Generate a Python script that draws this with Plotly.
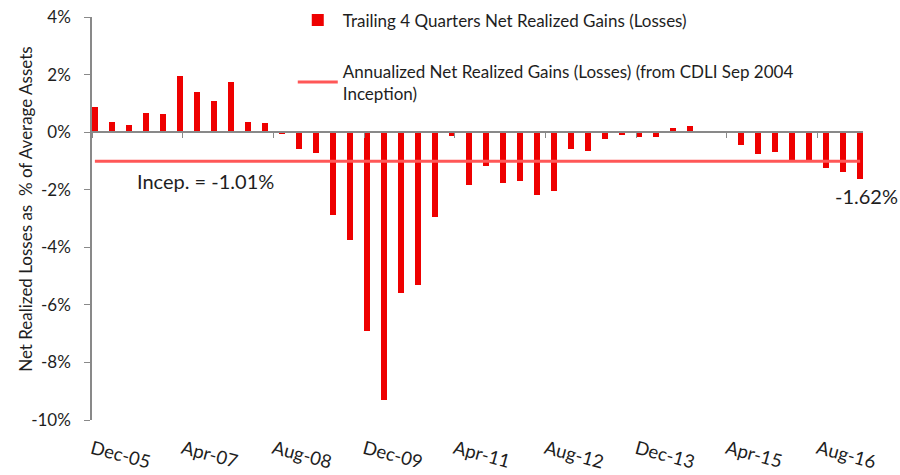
import plotly.graph_objects as go

# ---------------- data ----------------
quarters = [
    "2005-12", "2006-03", "2006-06", "2006-09", "2006-12", "2007-03", "2007-06", "2007-09",
    "2007-12", "2008-03", "2008-06", "2008-09", "2008-12", "2009-03", "2009-06", "2009-09",
    "2009-12", "2010-03", "2010-06", "2010-09", "2010-12", "2011-03", "2011-06", "2011-09",
    "2011-12", "2012-03", "2012-06", "2012-09", "2012-12", "2013-03", "2013-06", "2013-09",
    "2013-12", "2014-03", "2014-06", "2014-09", "2014-12", "2015-03", "2015-06", "2015-09",
    "2015-12", "2016-03", "2016-06", "2016-09", "2016-12", "2017-03",
]
trailing_4q = [
    0.88, 0.36, 0.24, 0.67, 0.64, 1.96, 1.39, 1.08,
    1.74, 0.36, 0.32, -0.03, -0.59, -0.71, -2.87, -3.75,
    -6.91, -9.30, -5.59, -5.30, -2.94, -0.13, -1.83, -1.17,
    -1.76, -1.68, -2.17, -2.06, -0.58, -0.67, -0.24, -0.10,
    -0.18, -0.17, 0.13, 0.21, 0.0, 0.0, -0.45, -0.77,
    -0.68, -0.96, -1.05, -1.25, -1.39, -1.62,
]
inception_value = -1.01
inception = [inception_value] * len(quarters)

y_ticks = [-10, -8, -6, -4, -2, 0, 2, 4]
y_tick_text = ["-10%", "-8%", "-6%", "-4%", "-2%", "0%", "2%", "4%"]
bar_name = "Trailing 4 Quarters Net Realized Gains (Losses)"
line_name = "Annualized Net Realized Gains (Losses) (from CDLI Sep 2004<br>Inception)"
y_title = "Net Realized Losses as  % of Average Assets"
incep_label = "Incep. = -1.01%"
last_label = "-1.62%"

# ---------------- style ----------------
FONT = "Lato, 'Open Sans', sans-serif"
TXT = "#1e1e1e"
GRAY = "#898989"
BAR_RED = "#EE0000"
LINE_RED = "#FF5757"
x_range = ["2005-12-01", "2017-04-01"]
DAY_MS = 86400000

fig = go.Figure()
fig.add_trace(go.Bar(
    x=quarters, y=trailing_4q, name=bar_name,
    xperiod="M1", xperiodalignment="middle",
    width=32 * DAY_MS,
    marker=dict(color=BAR_RED, line=dict(width=0)),
    legendgroup="a",
))
fig.add_trace(go.Scatter(
    x=quarters, y=inception, name=line_name, mode="lines",
    xperiod="M1", xperiodalignment="middle",
    line=dict(color=LINE_RED, width=3),
    xaxis="x2", legendgroup="b",
))

fig.add_annotation(x="2007-08-01", y=inception_value, yanchor="top", yshift=-6,
                   text=incep_label, showarrow=False,
                   font=dict(family=FONT, size=20, color=TXT))
fig.add_annotation(x="2017-03-16", y=trailing_4q[-1], yanchor="top", yshift=-3, xshift=6,
                   text=last_label, showarrow=False,
                   font=dict(family=FONT, size=20, color=TXT))
# y-axis title placed as rotated text for exact placement
fig.add_annotation(xref="paper", yref="paper", x=-0.0856, y=0.524,
                   xanchor="center", yanchor="middle", textangle=-90,
                   text=y_title, showarrow=False,
                   font=dict(family=FONT, size=17, color=TXT))

fig.update_layout(
    width=900, height=475,
    margin=dict(l=92, r=37, t=17, b=55, autoexpand=False),
    paper_bgcolor="white", plot_bgcolor="white",
    font=dict(family=FONT, size=15, color=TXT),
    showlegend=True,
    legend=dict(x=0.2604, xref="paper", y=0.995, yref="container",
                xanchor="left", yanchor="top",
                bgcolor="rgba(0,0,0,0)", font=dict(family=FONT, size=17, color=TXT),
                traceorder="grouped", tracegroupgap=26, itemwidth=40),
    bargap=0,
    xaxis=dict(type="date", range=x_range, tick0="2005-12-01", dtick="M16",
               tickformat="%b-%y", tickangle=15, ticks="", showline=False,
               showgrid=False, zeroline=False, ticklabelstandoff=14, automargin=False,
               tickfont=dict(family=FONT, size=18.5, color=TXT)),
    xaxis2=dict(type="date", range=x_range, tick0="2005-12-01", dtick="M16",
                overlaying="x", anchor="free", position=10 / 14, side="bottom",
                ticks="outside", ticklen=5, tickcolor=GRAY, tickwidth=1,
                showline=True, linecolor=GRAY, linewidth=2,
                showticklabels=False, showgrid=False, zeroline=False),
    yaxis=dict(range=[-10, 4], tickvals=y_ticks, ticktext=y_tick_text,
               ticks="outside", ticklen=6, tickcolor=GRAY,
               showline=True, linecolor=GRAY, linewidth=1.5,
               showgrid=False, zeroline=False, ticklabelstandoff=10, automargin=False,
               tickfont=dict(family=FONT, size=17, color=TXT)),
)

fig.write_html("out.html", config={"displayModeBar": False},
               post_script="document.body.style.margin='0px';")
